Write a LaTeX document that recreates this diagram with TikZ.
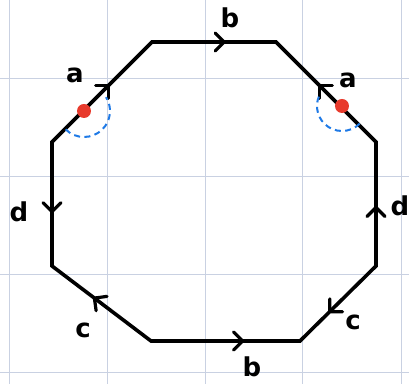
\documentclass[tikz,border=0pt]{standalone}
\usepackage{fontspec}
\setsansfont{DejaVu Sans}
\usetikzlibrary{arrows.meta, decorations.markings}

\definecolor{gridblue}{HTML}{C9D1E2}
\definecolor{dotred}{HTML}{E83A2C}
\definecolor{arcblue}{HTML}{1F7AE6}

\tikzset{
  gridline/.style={gridblue, line width=0.5pt},
  side/.style={line width=1.8pt, line join=miter},
  edgearrow/.style={postaction={decorate}, decoration={markings,
      mark=at position #1 with {\arrow[line width=1.6pt]{Straight Barb[length=4.5pt, width=9pt, line cap=round]}}}},
  dot/.style={circle, fill=dotred, inner sep=0pt, minimum size=7pt},
  anglearc/.style={arcblue, line width=1pt, dash pattern=on 3pt off 2.2pt},
  lbl/.style={font=\sffamily\bfseries\fontsize{13}{13}\selectfont, inner sep=0pt}
}

\begin{document}
\begin{tikzpicture}[x=0.5pt, y=-0.5pt]
  \useasboundingbox (0,0) rectangle (409,384);
  % grid
  \foreach \x in {10,108,206,303,402}
    \draw[gridline] (\x,0) -- (\x,384);
  \foreach \y in {79,177,275,373}
    \draw[gridline] (0,\y) -- (409,\y);

  % corners of the octagon
  \coordinate (v1) at (152,42);
  \coordinate (v2) at (276,42);
  \coordinate (v3) at (376,142);
  \coordinate (v4) at (376,266);
  \coordinate (v5) at (300,341);
  \coordinate (v6) at (151,341);
  \coordinate (v7) at (52,266);
  \coordinate (v8) at (52,142);
  \draw[side] (v1) -- (v2) -- (v3) -- (v4) -- (v5) -- (v6) -- (v7) -- (v8) -- cycle;

  % edge directions
  \path[edgearrow=0.58] (v8) -- (v1);
  \path[edgearrow=0.60] (v1) -- (v2);
  \path[edgearrow=0.58] (v3) -- (v2);
  \path[edgearrow=0.49] (v4) -- (v3);
  \path[edgearrow=0.63] (v4) -- (v5);
  \path[edgearrow=0.63] (v6) -- (v5);
  \path[edgearrow=0.59] (v6) -- (v7);
  \path[edgearrow=0.58] (v8) -- (v7);

  % marked points and angles
  \node[dot] (ldot) at (84,111) {};
  \node[dot] (rdot) at (342,106) {};
  \draw[anglearc] (ldot.center) ++(135:26) arc[start angle=135, end angle=-32, radius=26];
  \draw[anglearc] (rdot.center) ++(45:25) arc[start angle=45, end angle=212, radius=25];

  % edge labels
  \node[lbl] (atl) at (75,75) {a};
  \node[lbl] (atr) at (348,80) {a};
  \node[lbl] (btop) at (230,18) {b};
  \node[lbl] (bbot) at (252,367) {b};
  \node[lbl] (dl) at (19,212) {d};
  \node[lbl] (dr) at (400,206) {d};
  \node[lbl] (cl) at (83,330) {c};
  \node[lbl] (cr) at (353,322) {c};
\end{tikzpicture}
\end{document}
